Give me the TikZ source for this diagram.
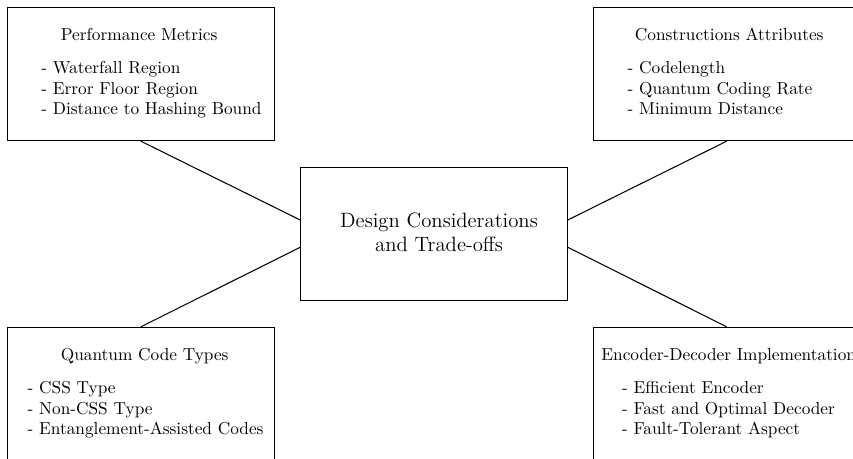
\documentclass[tikz,border=0pt]{standalone}
\usetikzlibrary{calc}
\begin{document}
\begin{tikzpicture}[x=0.5784pt,y=-0.5784pt,
  box/.style={draw, line width=0.6pt, inner sep=0pt,
    minimum width=154.2pt, minimum height=77.1pt},
  title/.style={anchor=base, inner sep=0pt},
  items/.style={anchor=base west, inner sep=0pt},
  link/.style={line width=0.6pt}]
\useasboundingbox (0,0) rectangle (853,459);
\clip (0,0) rectangle (853,459);

% central box and its caption
\node[box] (c) at (434,233.7) {};
\node[title, font=\large] (cT) at (439,227.3) {\begin{tabular}[t]{@{}c@{}}
  Design Considerations\\and Trade-offs\end{tabular}};

% four surrounding boxes
\node[box] (tl) at (140.8,74) {};
\node[box] (tr) at (726.7,74) {};
\node[box] (bl) at (140.8,394) {};
\node[box] (br) at (726.7,394) {};

% headings
\node[title] (tlT) at (139.2,40.7) {Performance Metrics};
\node[title] (trT) at (729.2,40.7) {Constructions Attributes};
\node[title] (blT) at (144.7,360.7) {Quantum Code Types};
\node[title] (brT) at (728.7,360.7) {Encoder-Decoder Implementation};

% bullet lists
\node[items] (tlL) at (41,73.5) {\begin{tabular}[t]{@{}l@{}}
  - Waterfall Region\\- Error Floor Region\\- Distance to Hashing Bound\end{tabular}};
\node[items] (trL) at (627.3,73.5) {\begin{tabular}[t]{@{}l@{}}
  - Codelength\\- Quantum Coding Rate\\- Minimum Distance\end{tabular}};
\node[items] (blL) at (27.3,393.5) {\begin{tabular}[t]{@{}l@{}}
  - CSS Type\\- Non-CSS Type\\- Entanglement-Assisted Codes\end{tabular}};
\node[items] (brL) at (621.7,393.5) {\begin{tabular}[t]{@{}l@{}}
  - Efficient Encoder\\- Fast and Optimal Decoder\\- Fault-Tolerant Aspect\end{tabular}};

% connectors
\draw[link] (tl.south) -- ($(c.west)+(0,-13.7)$);
\draw[link] (bl.north) -- ($(c.west)+(0,13.6)$);
\draw[link] (tr.south) -- ($(c.east)+(0,-13.7)$);
\draw[link] (br.north) -- ($(c.east)+(0,13.6)$);
\end{tikzpicture}
\end{document}
